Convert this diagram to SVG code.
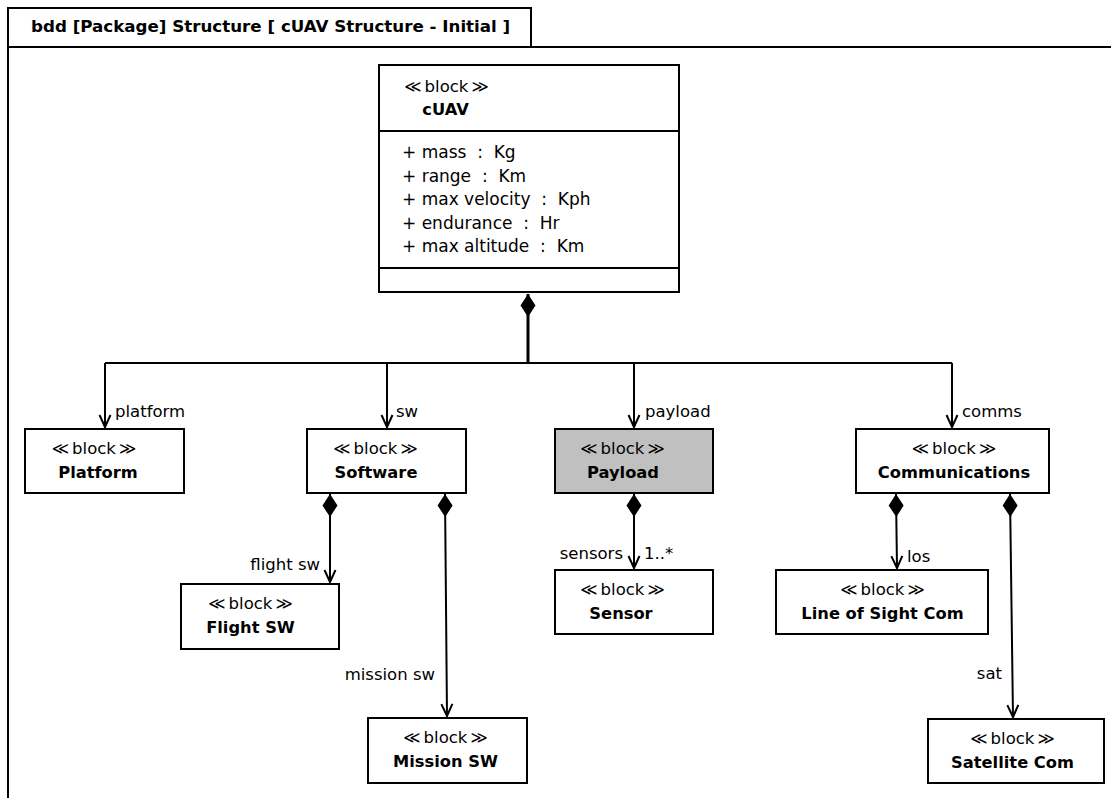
<svg xmlns="http://www.w3.org/2000/svg" width="1111" height="798" viewBox="0 0 1111 798">
  <style>
    .box { fill: #ffffff; stroke: #000000; stroke-width: 2; }
    .sel { fill: #c0c0c0; }
    .frame { fill: none; stroke: #000000; stroke-width: 2; }
    .st { font-family: "DejaVu Sans", "Liberation Sans", sans-serif; font-size: 16.5px; fill: #000; }
    .nm { font-family: "DejaVu Sans", "Liberation Sans", sans-serif; font-size: 16.3px; font-weight: bold; fill: #000; }
    .lbl { font-family: "DejaVu Sans", "Liberation Sans", sans-serif; font-size: 16.5px; fill: #000; white-space: pre; }
    .attr { font-family: "DejaVu Sans", "Liberation Sans", sans-serif; font-size: 17px; fill: #000; white-space: pre; }
    .c { text-anchor: middle; }
    .e { text-anchor: end; }
    .edge { fill: none; stroke: #000000; stroke-width: 2; }
    .trunk { fill: none; stroke: #000000; stroke-width: 3; }
  </style>
  <defs>
    <marker id="arrow" markerUnits="userSpaceOnUse" viewBox="-14 -7 16 14" markerWidth="16" markerHeight="14" refX="0" refY="0" orient="auto" overflow="visible">
      <path d="M-12,-5.5 L0,0 L-12,5.5" fill="none" stroke="#000" stroke-width="2" stroke-linejoin="miter"/>
    </marker>
    <marker id="diamond" markerUnits="userSpaceOnUse" viewBox="0 -8 24 16" markerWidth="24" markerHeight="16" refX="0" refY="0" orient="auto" overflow="visible">
      <path d="M0,0 L11.5,-7.5 L23,0 L11.5,7.5 Z" fill="#000" stroke="none"/>
    </marker>
  </defs>

  <!-- diagram frame with heading tab -->
  <g id="frame">
    <rect class="frame" x="8" y="8" width="523" height="39"/>
    <line class="frame" x1="8" y1="47" x2="1111" y2="47"/>
    <line class="frame" x1="8" y1="47" x2="8" y2="798"/>
    <text class="nm" x="31" y="32" style="font-size:16.7px">bdd [Package] Structure [ cUAV Structure - Initial ]</text>
  </g>

  <!-- connectors -->
  <g id="connectors">
    <path class="trunk" d="M528,294 L528,363" marker-start="url(#diamond)"/>
    <path class="edge" d="M105,363 L952,363"/>
    <path class="edge" d="M105,363 L105,427" marker-end="url(#arrow)"/>
    <path class="edge" d="M387,363 L387,427" marker-end="url(#arrow)"/>
    <path class="edge" d="M634,363 L634,427" marker-end="url(#arrow)"/>
    <path class="edge" d="M952,363 L952,427" marker-end="url(#arrow)"/>
    <path class="edge" d="M330,494 L330,582" marker-start="url(#diamond)" marker-end="url(#arrow)"/>
    <path class="edge" d="M445,494 L447,716" marker-start="url(#diamond)" marker-end="url(#arrow)"/>
    <path class="edge" d="M634,494 L634,568" marker-start="url(#diamond)" marker-end="url(#arrow)"/>
    <path class="edge" d="M896,494 L897,568" marker-start="url(#diamond)" marker-end="url(#arrow)"/>
    <path class="edge" d="M1010,494 L1013,717" marker-start="url(#diamond)" marker-end="url(#arrow)"/>

    <text class="lbl" x="115" y="417">platform</text>
    <text class="lbl" x="396" y="417">sw</text>
    <text class="lbl" x="645" y="417">payload</text>
    <text class="lbl" x="962" y="417">comms</text>
    <text class="lbl e" x="320" y="570">flight sw</text>
    <text class="lbl e" x="435" y="680">mission sw</text>
    <text class="lbl e" x="623" y="559">sensors</text>
    <text class="lbl" x="644" y="559">1..*</text>
    <text class="lbl" x="907" y="562">los</text>
    <text class="lbl e" x="1002" y="679">sat</text>
  </g>

  <g id="cUAV">
    <rect class="box" x="379" y="65" width="300" height="227"/>
    <line class="frame" x1="379" y1="131" x2="679" y2="131"/>
    <line class="frame" x1="379" y1="268" x2="679" y2="268"/>
    <text class="st c" x="446.5" y="92">≪<tspan dx="3">block</tspan><tspan dx="3">≫</tspan></text>
    <text class="nm c" x="445.5" y="115">cUAV</text>
    <text class="attr" x="402" y="158">+ mass  :  Kg</text>
    <text class="attr" x="402" y="181.5">+ range  :  Km</text>
    <text class="attr" x="402" y="205">+ max velocity  :  Kph</text>
    <text class="attr" x="402" y="228.5">+ endurance  :  Hr</text>
    <text class="attr" x="402" y="252">+ max altitude  :  Km</text>
  </g>

  <g id="Platform">
    <rect class="box" x="25" y="429" width="159" height="64"/>
    <text class="st c" x="94" y="454">≪<tspan dx="3">block</tspan><tspan dx="3">≫</tspan></text>
    <text class="nm c" x="98" y="478">Platform</text>
  </g>

  <g id="Software">
    <rect class="box" x="307" y="429" width="159" height="64"/>
    <text class="st c" x="375.5" y="454">≪<tspan dx="3">block</tspan><tspan dx="3">≫</tspan></text>
    <text class="nm c" x="376" y="478">Software</text>
  </g>

  <g id="Payload">
    <rect class="box sel" x="555" y="429" width="158" height="64"/>
    <text class="st c" x="622.5" y="454">≪<tspan dx="3">block</tspan><tspan dx="3">≫</tspan></text>
    <text class="nm c" x="623" y="478">Payload</text>
  </g>

  <g id="Communications">
    <rect class="box" x="856" y="429" width="193" height="64"/>
    <text class="st c" x="954" y="454">≪<tspan dx="3">block</tspan><tspan dx="3">≫</tspan></text>
    <text class="nm c" x="954" y="478">Communications</text>
  </g>

  <g id="FlightSW">
    <rect class="box" x="181" y="584" width="158" height="65"/>
    <text class="st c" x="250.5" y="609">≪<tspan dx="3">block</tspan><tspan dx="3">≫</tspan></text>
    <text class="nm c" x="250.5" y="633">Flight SW</text>
  </g>

  <g id="Sensor">
    <rect class="box" x="555" y="570" width="158" height="64"/>
    <text class="st c" x="622.5" y="595">≪<tspan dx="3">block</tspan><tspan dx="3">≫</tspan></text>
    <text class="nm c" x="621" y="619">Sensor</text>
  </g>

  <g id="LineOfSightCom">
    <rect class="box" x="776" y="570" width="212" height="64"/>
    <text class="st c" x="882.5" y="595">≪<tspan dx="3">block</tspan><tspan dx="3">≫</tspan></text>
    <text class="nm c" x="882.5" y="619">Line of Sight Com</text>
  </g>

  <g id="MissionSW">
    <rect class="box" x="368" y="718" width="159" height="65"/>
    <text class="st c" x="445.5" y="743">≪<tspan dx="3">block</tspan><tspan dx="3">≫</tspan></text>
    <text class="nm c" x="445.5" y="767">Mission SW</text>
  </g>

  <g id="SatelliteCom">
    <rect class="box" x="928" y="719" width="176" height="64"/>
    <text class="st c" x="1012.5" y="744">≪<tspan dx="3">block</tspan><tspan dx="3">≫</tspan></text>
    <text class="nm c" x="1012.5" y="768">Satellite Com</text>
  </g>
</svg>
